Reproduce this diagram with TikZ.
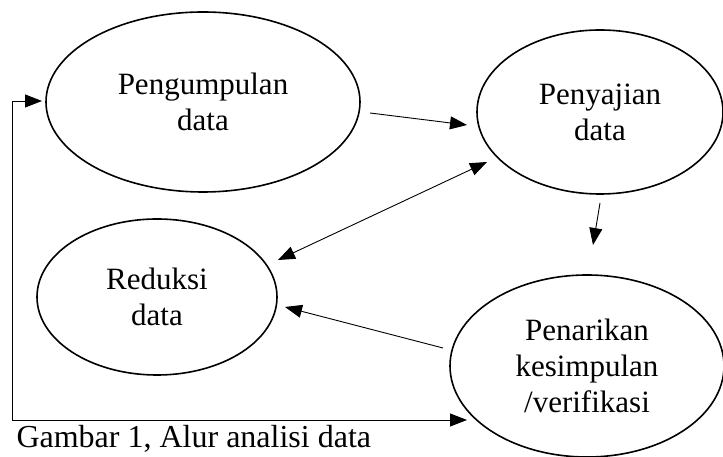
\documentclass[tikz,border=0pt]{standalone}
\usepackage{fontspec}
\setmainfont{Liberation Serif}
\usetikzlibrary{shapes.geometric,arrows.meta}

\begin{document}
\begin{tikzpicture}[x=1pt,y=1pt,>={Triangle[length=17pt,width=13pt]},
	stage/.style={draw,ellipse,line width=1.6pt,inner sep=0pt,align=center,font=\fontsize{31}{36}\selectfont},
	flow/.style={->,line width=0.9pt}]
	\useasboundingbox (0,0) rectangle (723,457);
	\node[stage,minimum width=314,minimum height=180] (kumpul) at (203,355) {Pengumpulan\\data};
	\node[stage,minimum width=246,minimum height=164] (saji) at (600,345) {Penyajian\\data};
	\node[stage,minimum width=240,minimum height=156] (reduksi) at (157,160) {Reduksi\\data};
	\node[stage,minimum width=274,minimum height=182] (tarik) at (587,91) {Penarikan\\kesimpulan\\/verifikasi};
	\node[anchor=base west,font=\fontsize{32}{37}\selectfont] (judul) at (13,9) {Gambar 1, Alur analisi data};
	\draw[flow] ([shift={(167,-11)}]kumpul.center) -- ([shift={(-133,-13)}]saji.center);
	\draw[flow,<->] ([shift={(121,37)}]reduksi.center) -- ([shift={(-113,-50)}]saji.center);
	\draw[flow] ([shift={(0,-91)}]saji.center) -- ([shift={(6,121)}]tarik.center);
	\draw[flow] ([shift={(-144,18)}]tarik.center) -- ([shift={(128,-10)}]reduksi.center);
	\coordinate (belok) at (12,37);
	\draw[flow,<->] ([shift={(-120,-54)}]tarik.center) -- (belok) |- ([shift={(-161,1)}]kumpul.center);
\end{tikzpicture}
\end{document}
